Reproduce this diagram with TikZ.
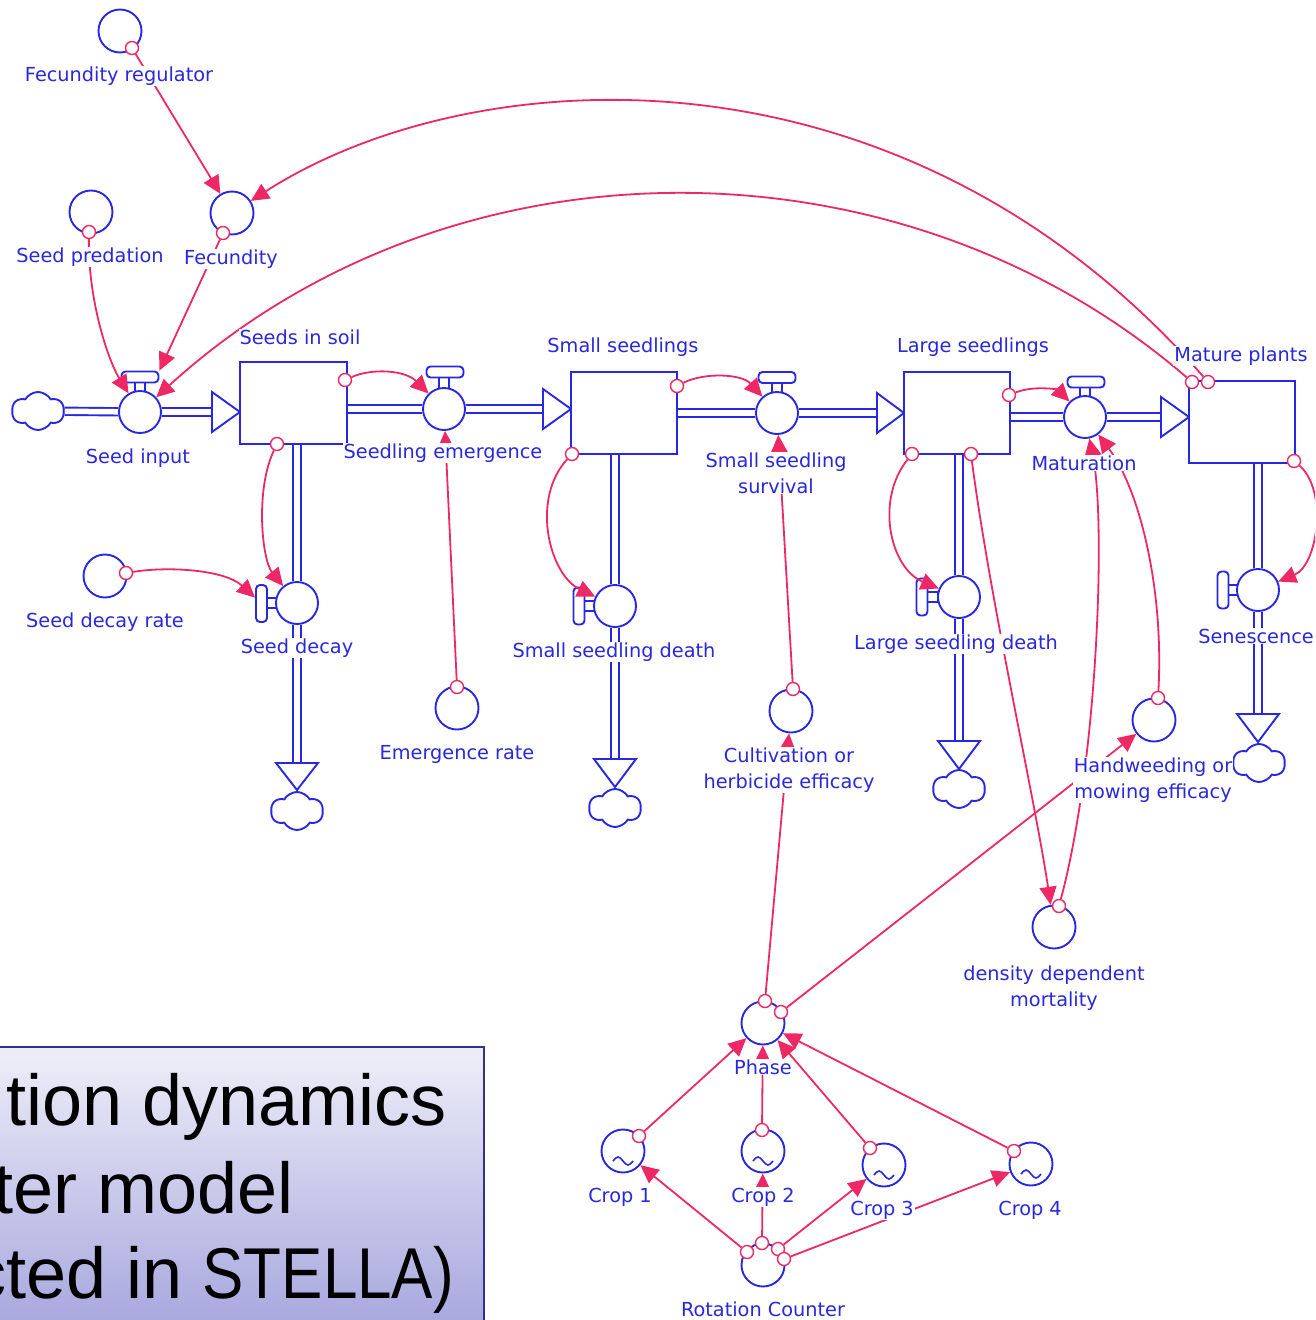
\documentclass[tikz,border=0pt]{standalone}
\usepackage{fontspec}
\newfontfamily\labfont{DejaVu Sans}
\newfontfamily\arialfont{Liberation Sans}
\usetikzlibrary{arrows.meta,shapes.symbols}
\definecolor{bl}{RGB}{40,40,225}
\definecolor{tb}{RGB}{40,40,220}
\definecolor{pk}{RGB}{238,40,100}
\definecolor{boxtop}{RGB}{238,238,248}
\definecolor{boxbot}{RGB}{166,166,222}
\definecolor{boxline}{RGB}{50,50,140}
\pgfdeclarelayer{bg}
\pgfdeclarelayer{fg}
\pgfsetlayers{bg,main,fg}
\begin{document}
\begin{tikzpicture}[x=1pt,y=-1pt,
  conv/.style={circle,draw=bl,line width=1.9pt,fill=white,minimum size=43pt,inner sep=0},
  valve/.style={circle,draw=bl,line width=1.9pt,fill=white,minimum size=42pt,inner sep=0},
  hhandle/.style={rectangle,rounded corners=4pt,draw=bl,line width=1.9pt,fill=white,minimum width=37pt,minimum height=11pt,inner sep=0},
  vhandle/.style={rectangle,rounded corners=4pt,draw=bl,line width=1.9pt,fill=white,minimum width=11pt,minimum height=37pt,inner sep=0},
  hstem/.style={rectangle,draw=bl,line width=1.6pt,fill=white,minimum width=10pt,minimum height=12pt,inner sep=0},
  vstem/.style={rectangle,draw=bl,line width=1.6pt,fill=white,minimum width=12pt,minimum height=10pt,inner sep=0},
  stock/.style={rectangle,draw=bl,line width=1.9pt,fill=white,minimum width=106pt,minimum height=82pt,inner sep=0},
  pipe/.style={draw=bl,line width=1.9pt,double=white,double distance=5.5pt},
  tip/.style={draw=bl,line width=1.9pt,fill=white,line join=miter},
  src/.style={cloud,cloud puffs=6,cloud puff arc=120,draw=bl,line width=1.9pt,fill=white,minimum width=52pt,minimum height=38pt,inner sep=0},
  mk/.style={circle,draw=pk,line width=1.4pt,fill=white,minimum size=13pt,inner sep=0},
  con/.style={draw=pk,line width=1.8pt,-{Triangle[length=18pt,width=17pt]}},
  tl/.style={draw=bl,line width=1.6pt},
  lbl/.style={text=tb,font=\labfont\fontsize{19.3}{26}\selectfont,fill=white,inner sep=1pt,align=center},
  big/.style={font=\arialfont\fontsize{72}{88}\selectfont,inner sep=0,anchor=base east,text=black}
  ]
\useasboundingbox (0,0) rectangle (1315,1320);
\clip (0,0) rectangle (1315,1320);

% ---------- valve stems ----------
\node[hstem] (st1) at (140,386) {};
\node[hstem] (st2) at (444,383) {};
\node[hstem] (st3) at (777,387) {};
\node[hstem] (st4) at (1085,391) {};
\node[vstem] (st5) at (271,603) {};
\node[vstem] (st6) at (589,606) {};
\node[vstem] (st7) at (932,597) {};
\node[vstem] (st8) at (1232,590) {};

% ---------- valves ----------
\node[valve] (vsi) at (140,412) {};
\node[hhandle] (h1) at (140,377) {};
\node[valve] (vse) at (444,409) {};
\node[hhandle] (h2) at (445,372) {};
\node[valve] (vss) at (777,413) {};
\node[hhandle] (h3) at (777,377.5) {};
\node[valve] (vmat) at (1085,417) {};
\node[hhandle] (h4) at (1086,382) {};
\node[valve] (vsd) at (297,603) {};
\node[vhandle] (h5) at (261.5,603.5) {};
\node[valve] (vssd) at (615,606) {};
\node[vhandle] (h6) at (579,606) {};
\node[valve] (vlsd) at (959,597) {};
\node[vhandle] (h7) at (922,597) {};
\node[valve] (vsen) at (1258,590) {};
\node[vhandle] (h8) at (1223,590) {};

% ---------- stocks ----------
\node[stock,minimum width=107pt] (sis) at (293.5,403) {};
\node[stock] (ss) at (624,413) {};
\node[stock] (ls) at (957,413) {};
\node[stock] (mp) at (1242,422) {};

% ---------- clouds ----------
\node[src] (k1) at (38,411) {};
\node[src] (k2) at (297,811) {};
\node[src] (k3) at (615,808) {};
\node[src] (k4) at (959,789) {};
\node[src] (k5) at (1259,763) {};

% ---------- converters ----------
\node[conv] (fr) at (120,31) {};
\node[conv] (sp) at (91,212) {};
\node[conv] (fec) at (232,213) {};
\node[conv] (sdr) at (105,576) {};
\node[conv] (er) at (457,708) {};
\node[conv] (che) at (791,711) {};
\node[conv] (hme) at (1154,720) {};
\node[conv] (ddm) at (1054,927) {};
\node[conv] (ph) at (763,1023) {};
\node[conv] (c1) at (623,1151) {};
\node[conv] (c2) at (763,1151) {};
\node[conv] (c3) at (884,1165) {};
\node[conv] (c4) at (1031,1164) {};
\node[conv] (rc) at (763,1265) {};
\foreach \n in {c1,c2,c3,c4}{
  \draw[tl] ([xshift=-10pt,yshift=-10pt]\n.center) sin ++(5pt,4pt) cos ++(5pt,-4pt) sin ++(5pt,-4pt) cos ++(5pt,4pt);
}

% ---------- flow pipes (background) ----------
\coordinate (a1) at (212,412);
\coordinate (a2) at (543,409);
\coordinate (a3) at (877,413);
\coordinate (a4) at (1161,417);
\coordinate (a5) at (297,763);
\coordinate (a6) at (615,759);
\coordinate (a7) at (959,741);
\coordinate (a8) at (1258,714);
\begin{pgfonlayer}{bg}
\draw[pipe] (k1) -- (vsi);
\draw[pipe] (vsi) -- (a1);
\draw[tip] (212,392) -- (240,412) -- (212,432) -- cycle;
\draw[pipe] (sis.east |- vse) -- (vse);
\draw[pipe] (vse) -- (a2);
\draw[tip] (543,389) -- (571,409) -- (543,429) -- cycle;
\draw[pipe] (ss.east |- vss) -- (vss);
\draw[pipe] (vss) -- (a3);
\draw[tip] (877,393) -- (904,413) -- (877,433) -- cycle;
\draw[pipe] (ls.east |- vmat) -- (vmat);
\draw[pipe] (vmat) -- (a4);
\draw[tip] (1161,397) -- (1189,417) -- (1161,437) -- cycle;
\draw[pipe] (sis.south -| vsd) -- (vsd);
\draw[pipe] (vsd) -- (a5);
\draw[tip] (276,763) -- (297,790) -- (318,763) -- cycle;
\draw[pipe] (ss.south -| vssd) -- (vssd);
\draw[pipe] (vssd) -- (a6);
\draw[tip] (594,759) -- (615,787) -- (636,759) -- cycle;
\draw[pipe] (ls.south -| vlsd) -- (vlsd);
\draw[pipe] (vlsd) -- (a7);
\draw[tip] (938,741) -- (959,769) -- (980,741) -- cycle;
\draw[pipe] (mp.south -| vsen) -- (vsen);
\draw[pipe] (vsen) -- (a8);
\draw[tip] (1237,714) -- (1258,742) -- (1279,714) -- cycle;
\end{pgfonlayer}

% ---------- connector source markers ----------
\node[mk] (m1) at (132,48) {};
\node[mk] (m2) at (89,232) {};
\node[mk] (m3) at (223,233) {};
\node[mk] (m4a) at (1192,382) {};
\node[mk] (m4b) at (1208,382) {};
\node[mk] (m5) at (345,380) {};
\node[mk] (m6) at (277,444) {};
\node[mk] (m7) at (126,573) {};
\node[mk] (m8) at (457,687) {};
\node[mk] (m9) at (677,386) {};
\node[mk] (m10) at (572,454) {};
\node[mk] (m11) at (793,689) {};
\node[mk] (m12) at (1009,395) {};
\node[mk] (m13) at (912,454) {};
\node[mk] (m14) at (971,454) {};
\node[mk] (m15) at (1059,906) {};
\node[mk] (m16) at (1158,698) {};
\node[mk] (m17) at (1294,461) {};
\node[mk] (m18) at (765,1001) {};
\node[mk] (m19) at (781,1012) {};
\node[mk] (m20) at (639,1136) {};
\node[mk] (m21) at (762,1130) {};
\node[mk] (m22) at (870,1148) {};
\node[mk] (m23) at (1014,1151) {};
\node[mk] (m24) at (747,1252) {};
\node[mk] (m25) at (762,1243) {};
\node[mk] (m26) at (778,1249) {};
\node[mk] (m27) at (784,1259) {};

% ---------- connectors ----------
\draw[con] (m1) -- (fec);
\draw[con] (m2) .. controls (88,300) and (108,360) .. (vsi);
\draw[con] (m3) -- (h1.north east);
\draw[con] (m4a) .. controls (900,130) and (450,130) .. (vsi);
\draw[con] (m4b) .. controls (900,30) and (470,60) .. (fec);
\draw[con] (m5) .. controls (372,368) and (405,370) .. (vse);
\draw[con] (m6) .. controls (255,490) and (262,560) .. (vsd);
\draw[con] (m7) .. controls (170,566) and (225,570) .. (h5);
\draw[con] (m8) -- (vse);
\draw[con] (m9) .. controls (705,372) and (742,374) .. (vss);
\draw[con] (m10) .. controls (530,500) and (550,575) .. (vssd);
\draw[con] (m11) -- (vss);
\draw[con] (m12) .. controls (1035,385) and (1058,390) .. (vmat);
\draw[con] (m13) .. controls (875,500) and (890,568) .. (vlsd);
\draw[con] (m14) .. controls (990,600) and (1035,800) .. (ddm);
\draw[con] (m15) .. controls (1098,760) and (1106,520) .. (vmat);
\draw[con] (m16) .. controls (1164,590) and (1140,490) .. (vmat);
\draw[con] (m17) .. controls (1328,490) and (1318,565) .. (vsen);
\draw[con] (m18) -- (che);
\draw[con] (m19) -- (hme);
\draw[con] (m20) -- (ph);
\draw[con] (m21) -- (ph);
\draw[con] (m22) -- (ph);
\draw[con] (m23) -- (ph);
\draw[con] (m24) -- (c1);
\draw[con] (m25) -- (c2);
\draw[con] (m26) -- (c3);
\draw[con] (m27) -- (c4);

% ---------- labels ----------
\begin{pgfonlayer}{fg}
\node[lbl] (L1) at (119,76) {Fecundity regulator};
\node[lbl] (L2) at (90,257) {Seed predation};
\node[lbl] (L3) at (231,259) {Fecundity};
\node[lbl] (L4) at (300,337) {Seeds in soil};
\node[lbl] (L5) at (138,458) {Seed input};
\node[lbl] (L6) at (443,453) {Seedling emergence};
\node[lbl] (L7) at (623,347) {Small seedlings};
\node[lbl] (L8) at (776,473) {Small seedling\\survival};
\node[lbl] (L9) at (973,347) {Large seedlings};
\node[lbl] (L10) at (1084,463) {Maturation};
\node[lbl] (L11) at (1241,356) {Mature plants};
\node[lbl] (L12) at (105,622) {Seed decay rate};
\node[lbl] (L13) at (297,648) {Seed decay};
\node[lbl] (L14) at (614,652) {Small seedling death};
\node[lbl] (L15) at (956,644) {Large seedling death};
\node[lbl] (L16) at (1256,636) {Senescence};
\node[lbl] (L17) at (457,754) {Emergence rate};
\node[lbl] (L18) at (789,770) {Cultivation or\\herbicide efficacy};
\node[lbl] (L19) at (1153,780) {Handweeding or\\mowing efficacy};
\node[lbl] (L20) at (1054,988) {density dependent\\mortality};
\node[lbl] (L21) at (763,1067) {Phase};
\node[lbl] (L22) at (620,1197) {Crop 1};
\node[lbl] (L23) at (763,1197) {Crop 2};
\node[lbl] (L24) at (882,1210) {Crop 3};
\node[lbl] (L25) at (1030,1210) {Crop 4};
\node[lbl] (L26) at (763,1309) {Rotation Counter};

% ---------- title box ----------
\shade[top color=boxtop,bottom color=boxbot] (-5,1047) rectangle (484,1330);
\draw[boxline,line width=2pt] (-5,1047) rectangle (484,1330);
\node[big] (T1) at (447,1125) {tion dynamics};
\node[big] (T2) at (294,1213) {ter model};
\node[big] (T3) at (454,1298) {cted in \scalebox{0.86}[1]{STELLA)}};
\end{pgfonlayer}
\end{tikzpicture}
\end{document}
